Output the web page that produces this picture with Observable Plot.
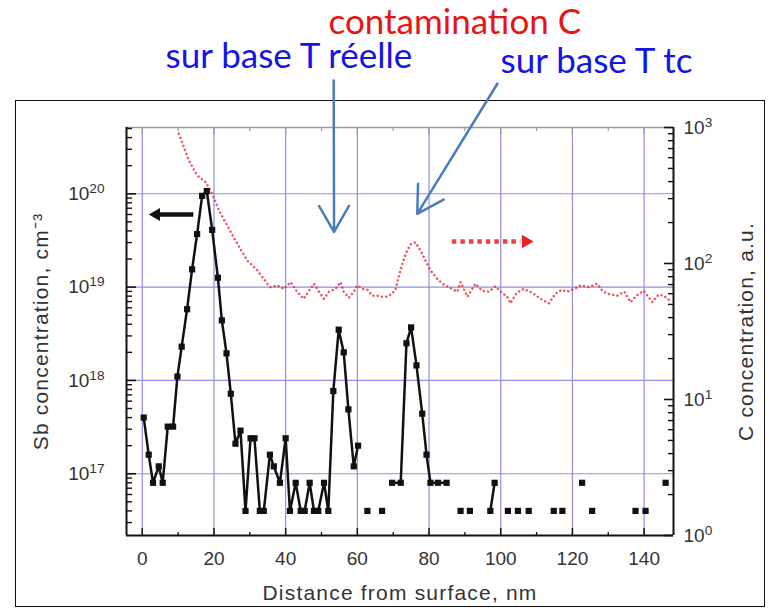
<!DOCTYPE html>
<html>
<head>
<meta charset="utf-8">
<script src="https://cdn.jsdelivr.net/npm/d3@7"></script>
<script src="https://cdn.jsdelivr.net/npm/@observablehq/plot@0.6"></script>
<style>
  body { margin: 0; background: #fff; }
  #wrap { position: relative; width: 769px; height: 613px; overflow: hidden; background: #fff; }
  #border { position: absolute; left: 15px; top: 100px; width: 750px; height: 507px;
            border: 1.5px solid #111; box-sizing: border-box; }
  #chart { position: absolute; left: 0; top: 0; }
</style>
</head>
<body>
<div id="wrap"><div id="border"></div><div id="chart"></div></div>
<script>
// Sb depth profile (nm, cm^-3); null marks a break in the trace (no counts)
const sbDepth = [0.4, 1.8, 3.0, 4.6, 5.7, 7.1, 8.6, 9.8, 11.0, 12.5,
  13.9, 15.3, 16.7, 18.0, 19.5, 21.1, 22.2, 23.5, 24.7, 26.0,
  27.4, 28.8, 30.2, 31.3, 32.8, 33.9, 35.6, 36.7, 38.4, 40.0,
  41.2, 42.8, 44.2, 45.3, 46.7, 47.9, 49.1, 50.7, 51.9, 53.3,
  54.8, 56.2, 57.5, 59.0, 60.2,
  null, 62.8, null, 66.9, null,
  69.7, 72.1, 73.7, 75.0, 76.5, 78.1, 79.3, 80.4, 82.5, 84.9,
  null, 88.8, null, 91.4, null, 97.1, 98.3, null, 102.0, null, 104.8, null,
  107.8, null, 114.8, null, 117.2, null, 122.7, null, 125.5, null,
  137.6, null, 140.4, null, 146.0];
const sbConc = [4e17, 1.6e17, 8e16, 1.2e17, 8e16, 3.2e17, 3.2e17, 1.1e18, 2.3e18, 5.8e18,
  1.55e19, 3.7e19, 9.5e19, 1.07e20, 4.1e19, 1.26e19, 4.4e18, 1.95e18, 7.2e17, 2.1e17,
  2.9e17, 4e16, 2.4e17, 2.4e17, 4e16, 4e16, 1.6e17, 1.2e17, 8e16, 2.4e17,
  4e16, 8e16, 4e16, 4e16, 8e16, 4e16, 4e16, 8e16, 4e16, 7.7e17,
  3.5e18, 2.0e18, 4.9e17, 1.2e17, 2.0e17,
  null, 4e16, null, 4e16, null,
  8e16, 8e16, 2.5e18, 3.7e18, 1.45e18, 4.4e17, 1.6e17, 8e16, 8e16, 8e16,
  null, 4e16, null, 4e16, null, 4e16, 8e16, null, 4e16, null, 4e16, null,
  4e16, null, 4e16, null, 4e16, null, 8e16, null, 4e16, null,
  4e16, null, 4e16, null, 8e16];

// Carbon contamination profile (nm, a.u.)
const cDepth = [10.2, 13.0, 15.3, 17.7, 19.5, 21.4, 23.7, 26.5, 29.3, 32.1,
  34.9, 35.8, 37.7, 39.5, 41.4, 43.2, 45.1, 46.5, 47.9, 49.3,
  50.7, 52.1, 53.9, 55.3, 56.2, 57.6, 59.0, 60.0, 61.4, 62.8,
  64.2, 65.5, 66.9, 68.3, 69.7, 70.7, 72.0, 73.5, 74.8, 76.2,
  77.6, 79.0, 80.4, 82.3, 84.1, 86.5, 87.9, 88.8, 90.7, 93.0,
  94.8, 96.7, 98.5, 100.3, 101.8, 102.7, 104.5, 106.4, 108.8, 111.1,
  113.4, 115.3, 117.0, 118.5, 120.5, 122.3, 124.6, 126.9, 128.4, 129.7,
  132.5, 134.5, 136.2, 138.2, 139.9, 142.3, 144.0, 145.5, 147.3];
const cConc = [899, 572, 444, 396, 326, 245, 190, 140, 105, 89,
  71, 67, 69, 65, 73, 62, 55, 63, 71, 62,
  55, 62, 65, 73, 62, 56, 62, 69, 65, 64,
  58, 58, 57, 57, 60, 65, 89, 118, 138, 143,
  125, 105, 89, 77, 70, 65, 62, 73, 57, 71,
  63, 62, 68, 61, 57, 51, 61, 65, 61, 55,
  51, 60, 64, 62, 65, 69, 67, 71, 63, 60,
  58, 62, 52, 59, 63, 52, 59, 58, 53];

// Axes
const xTicks = [0, 20, 40, 60, 80, 100, 120, 140];
const xMinorTicks = [10, 30, 50, 70, 90, 110, 130];
const sbTicks = [1e17, 1e18, 1e19, 1e20];
const cTicks = [1, 10, 100, 1000];
const xDomain = [-4.4, 148.2];
const sbDomain = [2.18e16, 5.13e20];
const cDomain = [1, 1000];

// Annotations (depth nm, Sb-axis value)
const noteArrows = [
  {x1: 53.4, y1: 1.64e21, x2: 53.5, y2: 3.9e19},
  {x1: 99.1, y1: 1.52e21, x2: 76.7, y2: 6.1e19}
];
const sbPointer = {x1: 14.4, x2: 4.6, head: 3.9, y: 6.0e19};
const cPointer = {x1: 86.5, x2: 105.6, head: 107.0, y: 3.08e19};

const lg = Math.log10;
const [sLo, sHi] = sbDomain.map(lg);
const [cLo, cHi] = cDomain.map(lg);
// the carbon axis shares the plot height with the Sb axis
const cToSb = c => 10 ** (sLo + (lg(c) - cLo) * (sHi - sLo) / (cHi - cLo));

const SUP = {"0": "⁰", "1": "¹", "2": "²", "3": "³", "4": "⁴", "5": "⁵", "6": "⁶", "7": "⁷", "8": "⁸", "9": "⁹", "-": "⁻"};
const pow10 = v => "10" + String(Math.round(lg(v))).split("").map(ch => SUP[ch]).join("");

const sb = sbDepth.map((d, i) => ({depth: d, conc: sbConc[i]}));
const sbPoints = sb.filter(d => d.conc != null);
const carbon = cDepth.map((d, i) => ({depth: d, conc: cConc[i]}));

const sbMinor = [];
for (let e = 16; e <= 20; e++) for (let k = 2; k <= 9; k++) {
  const v = k * 10 ** e;
  if (v >= sbDomain[0] && v <= sbDomain[1]) sbMinor.push(v);
}
const cMinor = [];
for (let e = 0; e <= 2; e++) for (let k = 2; k <= 9; k++) cMinor.push(cToSb(k * 10 ** e));

const gridColor = "#8f8fe6";
const axisColor = "#111";
const topColor = "#9a9a9a";
const labelColor = "#333";

// inward tick marks: tick shape of the opposite side, anchored on this side of the frame
const ticksX = (values, side, size, width, color = axisColor) => Plot.axisX(values, {
  anchor: side === "bottom" ? "top" : "bottom", frameAnchor: side,
  tickSize: size, stroke: color, strokeWidth: width, fill: "none", label: null
});
const ticksY = (values, side, size, width) => Plot.axisY(values, {
  anchor: side === "left" ? "right" : "left", frameAnchor: side,
  tickSize: size, stroke: axisColor, strokeWidth: width, fill: "none", label: null
});

const chart = Plot.plot({
  width: 769,
  height: 613,
  marginLeft: 126,
  marginRight: 96,
  marginTop: 127,
  marginBottom: 78,
  style: {fontFamily: "'Liberation Sans', Arial, sans-serif", fontSize: "19px", background: "transparent", color: labelColor},
  x: {domain: xDomain, label: null},
  y: {type: "log", domain: sbDomain, label: null},
  marks: [
    Plot.gridX(xTicks, {stroke: gridColor, strokeOpacity: 1, strokeWidth: 1.2}),
    Plot.gridY(sbTicks, {stroke: gridColor, strokeOpacity: 1, strokeWidth: 1.2}),

    // carbon (right axis), dotted
    Plot.line(carbon, {x: "depth", y: d => cToSb(d.conc), stroke: "#e2323e", strokeOpacity: 0.8,
      strokeWidth: 2.5, strokeDasharray: "0.1 4.2", strokeLinecap: "round", clip: true}),

    // Sb (left axis), line with square markers
    Plot.line(sb, {x: "depth", y: "conc", stroke: "#111", strokeWidth: 2.5, clip: true}),
    Plot.dot(sbPoints, {x: "depth", y: "conc", symbol: "square", r: 3.5, fill: "#111", stroke: "none"}),

    // plot box: black axes, light top edge
    Plot.ruleY([sbDomain[1]], {stroke: topColor, strokeWidth: 1.5}),
    Plot.ruleY([sbDomain[0]], {stroke: axisColor, strokeWidth: 1.8}),
    Plot.ruleX([xDomain[0], xDomain[1]], {stroke: axisColor, strokeWidth: 2}),

    // inward ticks
    ticksX(xTicks, "bottom", 8, 1.5),
    ticksX(xMinorTicks, "bottom", 4, 1.3),
    ticksX(xTicks, "top", 7, 1.3, topColor),
    ticksX(xMinorTicks, "top", 4, 1.2, topColor),
    ticksY(sbTicks, "left", 9, 1.6),
    ticksY(sbMinor, "left", 5, 1.4),
    ticksY(cTicks.map(cToSb), "right", 9, 1.6),
    ticksY(cMinor, "right", 5, 1.4),

    // tick labels
    Plot.axisX(xTicks, {anchor: "bottom", tickSize: 0, tickPadding: 16, fontSize: 19, fill: labelColor, label: null}),
    Plot.axisY(sbTicks, {anchor: "left", tickSize: 0, tickPadding: 22, tickFormat: pow10, fontSize: 19, fill: labelColor, label: null}),
    Plot.text(cTicks, {y: cToSb, text: pow10, frameAnchor: "right", textAnchor: "start", dx: 10, fontSize: 19, fill: labelColor}),

    // axis titles
    Plot.text(["Distance from surface, nm"], {frameAnchor: "bottom", textAnchor: "middle", dy: 64, fontSize: 21, fill: labelColor}),
    Plot.text(["Sb concentration, cm⁻³"], {frameAnchor: "left", textAnchor: "middle", rotate: -90, dx: -85, fontSize: 21, fill: labelColor}),
    Plot.text(["C concentration, a.u."], {frameAnchor: "right", textAnchor: "middle", rotate: -90, dx: 73, fontSize: 21, fill: labelColor}),

    // axis pointers
    Plot.ruleY([sbPointer], {x1: "x1", x2: "x2", y: "y", stroke: "#111", strokeWidth: 4.5}),
    Plot.dot([sbPointer], {x: "head", y: "y", symbol: "triangle", rotate: -90, r: 4.8, fill: "#111"}),
    Plot.ruleY([cPointer], {x1: "x1", x2: "x2", y: "y", stroke: "#e8202a", strokeOpacity: 0.85, strokeWidth: 4.5, strokeDasharray: "4.5 4"}),
    Plot.dot([cPointer], {x: "head", y: "y", symbol: "triangle", rotate: 90, r: 5, fill: "#e8202a"}),

    // annotations
    Plot.arrow(noteArrows, {x1: "x1", y1: "y1", x2: "x2", y2: "y2", stroke: "#4a7ebb", strokeWidth: 2.5, headLength: 18}),
    Plot.text(["contamination C"], {frameAnchor: "top-left", textAnchor: "start", lineAnchor: "bottom", dx: 202, dy: -94,
      fontFamily: "Lato, 'Open Sans', sans-serif", fontSize: 35, fill: "#e81414"}),
    Plot.text(["sur base T réelle"], {frameAnchor: "top-left", textAnchor: "start", lineAnchor: "bottom", dx: 39, dy: -60,
      fontFamily: "Lato, 'Open Sans', sans-serif", fontSize: 35, fill: "#1414e6"}),
    Plot.text(["sur base T tc"], {frameAnchor: "top-left", textAnchor: "start", lineAnchor: "bottom", dx: 374, dy: -55,
      fontFamily: "Lato, 'Open Sans', sans-serif", fontSize: 35, fill: "#1414e6"})
  ]
});

// powers of ten: raised exponent as a tspan; axis titles slightly tracked out
const SUB = Object.fromEntries(Object.entries(SUP).map(([k, v]) => [v, k]));
chart.querySelectorAll("text").forEach(t => {
  const txt = t.textContent;
  const m = txt.match(/^10([⁰¹²³⁴⁵⁶⁷⁸⁹⁻]+)$/);
  if (m) {
    t.textContent = "10";
    const ts = document.createElementNS("http://www.w3.org/2000/svg", "tspan");
    ts.setAttribute("dy", "-0.5em");
    ts.setAttribute("font-size", "0.72em");
    ts.textContent = [...m[1]].map(c => SUB[c]).join("");
    t.appendChild(ts);
  } else if (/concentration|Distance/.test(txt)) {
    t.style.letterSpacing = "1.2px";
  }
});

document.getElementById("chart").appendChild(chart);
</script>
</body>
</html>
